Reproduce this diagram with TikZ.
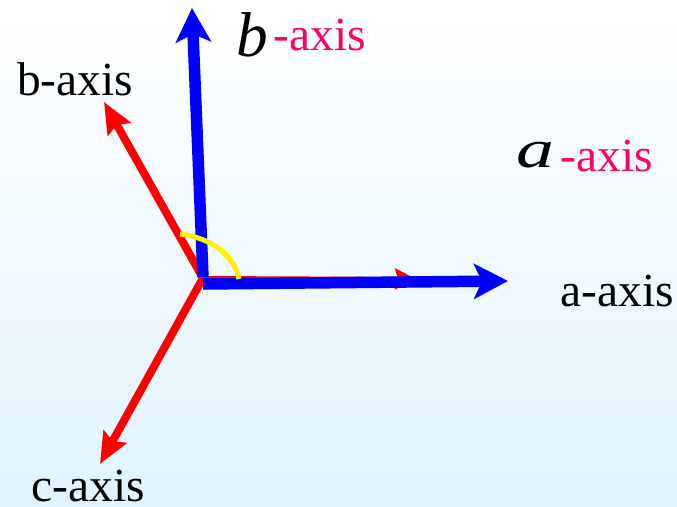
\documentclass[tikz,border=0pt]{standalone}
\usepackage{fontspec}
\setmainfont{Liberation Serif}
\usetikzlibrary{arrows.meta}
\definecolor{pinklabel}{HTML}{FF0066}
\definecolor{topback}{HTML}{FFFFFF}
\definecolor{bottomback}{HTML}{E0F4FE}
\tikzset{
  redaxis/.style={red, line width=0.16cm, -{Stealth[length=0.62cm,width=0.52cm,inset=0.1cm]}},
  blueaxis/.style={blue, line width=0.23cm, -{Stealth[length=0.68cm,width=0.7cm,inset=0.16cm]}},
  label/.style={inner sep=0pt, font=\fontsize{27}{30}\selectfont},
  pinklbl/.style={label, text=pinklabel},
  italbl/.style={inner sep=0pt, font=\fontsize{36}{40}\selectfont\itshape}
}
\begin{document}
\begin{tikzpicture}[x=0.02cm,y=-0.02cm]
\useasboundingbox (0,0) rectangle (677,507);
\shade[top color=topback, bottom color=bottomback, middle color=topback!55!bottomback] (0,0) rectangle (677,507);

\coordinate (o) at (203,278);
\coordinate (redb) at (104,102);
\coordinate (redc) at (100,464);
\coordinate (reda) at (416,279);
\coordinate (blueb) at (192,8);
\coordinate (bluea) at (508,281);
\coordinate (arcb) at (180,234);
\coordinate (arca) at (239,279);

\node[label] (blabel) at (75,79) {b-axis};
\node[label] (clabel) at (88,486) {c-axis};
\node[label] (alabel) at (617,291) {a-axis};
\node[italbl] (bital) at (252,35) {b};
\node[pinklbl] (bpink) at (320,35) {-axis};
\node[italbl, xscale=1.2, yscale=0.85] (aital) at (535,155) {a};
\node[pinklbl] (apink) at (607,156) {-axis};

\draw[redaxis] (o) -- (redb);
\draw[redaxis] (o) -- (redc);
\draw[red, line width=0.08cm, -{Stealth[length=0.42cm,width=0.42cm,inset=0.06cm]}] (o) -- (reda);
\draw[blueaxis] (203,277) -- (blueb);
\draw[blueaxis] (203,284) -- (bluea);
\draw[yellow, line width=0.1cm] (arcb) .. controls (212,238) and (234,255) .. (arca);
\end{tikzpicture}
\end{document}
